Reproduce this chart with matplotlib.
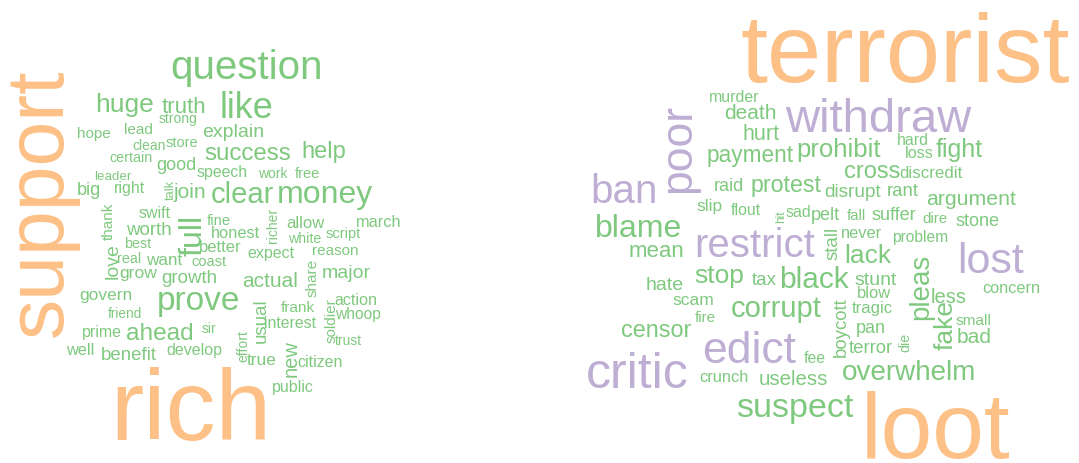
import matplotlib.pyplot as plt

plt.rcParams["font.family"] = ["Liberation Sans", "DejaVu Sans"]

# word-cloud palette (RColorBrewer "Accent")
GREEN, PURPLE, ORANGE = "#7FC97F", "#BEAED4", "#FDC086"

# ---- left cloud: words and their weights (drawn as font size, pt) ----
left_words = ["support", "rich", "question", "like", "huge", "truth", "strong", "lead",
              "hope", "clean", "store", "certain", "good", "leader", "big", "right",
              "talk", "join", "clear", "money", "explain", "success", "help", "speech",
              "work", "free", "thank", "love", "swift", "full", "fine", "honest", "worth",
              "best", "better", "real", "want", "coast", "grow", "growth", "govern",
              "prove", "friend", "prime", "ahead", "sir", "well", "benefit", "develop",
              "richer", "allow", "march", "white", "script", "expect", "reason", "share",
              "actual", "major", "usual", "frank", "soldier", "action", "whoop",
              "interest", "trust", "effort", "true", "new", "citizen", "public"]
left_freq = [58, 72, 29, 26, 19, 16, 10, 11,
             11, 10, 10.5, 10.3, 13, 9.6, 13, 11.5,
             9.3, 15, 21, 23, 14, 17.4, 17, 11.4,
             10, 10.5, 11, 14, 11.5, 23, 10.7, 11.8, 13.5,
             10.3, 12, 10.4, 12.3, 10.5, 12.6, 13.5, 12.5,
             24, 9.8, 11.5, 17.6, 10, 11.7, 13.4, 11.5,
             10, 12, 11.7, 10.2, 10.5, 11.5, 11, 11,
             15, 14, 13.5, 11, 11, 11.6, 11.2,
             11.4, 10, 10, 12.5, 14.5, 11.5, 11.5]
left_orange = ["support", "rich"]

# ---- right cloud ----
right_words = ["terrorist", "withdraw", "murder", "death", "hurt", "poor", "ban", "payment",
               "prohibit", "hard", "loss", "fight", "cross", "discredit", "disrupt", "rant",
               "argument", "protest", "raid", "slip", "flout", "hit", "sad", "pelt", "fall",
               "suffer", "dire", "stone", "never", "problem", "stall", "lack", "black",
               "restrict", "blame", "mean", "stop", "tax", "hate", "scam", "corrupt", "fire",
               "censor", "edict", "critic", "fee", "crunch", "useless", "overwhelm",
               "suspect", "loot", "boycott", "stunt", "blow", "tragic", "pan", "terror",
               "die", "pleas", "fake", "less", "concern", "small", "bad", "lost"]
right_freq = [70, 34, 11.4, 15, 15.5, 32, 29, 16.3,
              18.5, 11.5, 11.7, 18, 17, 12.2, 13.7, 13.4,
              15.3, 16.7, 13, 12.5, 11.4, 8.5, 11.5, 13, 10.7,
              13, 10.8, 13, 11.8, 11.2, 13.5, 19, 21.5,
              29, 23, 16, 19, 13.5, 14, 12.5, 21, 10.9,
              16.8, 32, 36, 11.4, 11.8, 14.7, 20.1,
              24.6, 67, 13.4, 14, 11.9, 12, 13, 13.4,
              10.3, 20, 19, 14.6, 11.7, 11.1, 15.1, 31]
right_orange = ["terrorist", "loot"]
right_purple = ["withdraw", "poor", "ban", "restrict", "lost", "edict", "critic"]

# ---- layout (pixel position of left/baseline anchor, rotation) ----
left_layout = [(62, 337, 90), (110, 440, 0), (170, 79, 0), (220, 118, 0), (95, 112, 0),
               (162, 113, 0), (159, 123, 0), (124, 134, 0), (77, 138, 0), (132, 150, 0),
               (166, 147, 0), (109, 162, 0), (156, 170, 0), (94, 180, 0), (77, 195, 0),
               (114, 193, 0), (174, 200, 90), (174, 198, 0), (211, 203, 0), (277, 203, 0),
               (202, 137, 0), (204, 160, 0), (301, 158, 0), (197, 177, 0), (258, 178, 0),
               (295, 178, 0), (113, 240, 90), (118, 279, 90), (139, 218, 0), (202, 256, 90),
               (207, 225, 0), (211, 238, 0), (126, 235, 0), (124, 248, 0), (199, 252, 0),
               (117, 263, 0), (146, 265, 0), (191, 266, 0), (119, 278, 0), (161, 283, 0),
               (79, 300, 0), (157, 310, 0), (108, 318, 0), (82, 337, 0), (126, 340, 0),
               (202, 333, 0), (66, 355, 0), (101, 360, 0), (166, 355, 0), (277, 243, 90),
               (286, 228, 0), (356, 227, 0), (288, 243, 0), (326, 238, 0), (247, 258, 0),
               (312, 255, 0), (317, 297, 90), (242, 287, 0), (322, 278, 0), (266, 343, 90),
               (281, 312, 0), (336, 343, 90), (334, 305, 0), (335, 319, 0), (264, 328, 0),
               (335, 345, 0), (247, 362, 90), (247, 365, 0), (297, 377, 90), (297, 367, 0),
               (272, 392, 0)]
right_layout = [(741, 82, 0), (785, 132, 0), (709, 102, 0), (724, 119, 0), (742, 140, 0),
                (690, 193, 90), (590, 203, 0), (707, 162, 0), (796, 157, 0), (897, 145, 0),
                (905, 158, 0), (936, 157, 0), (844, 178, 0), (899, 178, 0), (824, 197, 0),
                (887, 196, 0), (926, 205, 0), (751, 192, 0), (714, 191, 0), (696, 211, 0),
                (731, 215, 0), (784, 223, 90), (786, 217, 0), (811, 220, 0), (847, 220, 0),
                (871, 220, 0), (922, 223, 0), (955, 226, 0), (841, 238, 0), (892, 242, 0),
                (838, 260, 90), (844, 263, 0), (779, 288, 0), (694, 257, 0), (595, 237, 0),
                (629, 257, 0), (694, 283, 0), (752, 285, 0), (646, 290, 0), (672, 305, 0),
                (731, 317, 0), (695, 322, 0), (621, 337, 0), (702, 363, 0), (586, 388, 0),
                (804, 363, 0), (699, 382, 0), (759, 385, 0), (842, 380, 0), (736, 417, 0),
                (861, 458, 0), (846, 357, 90), (854, 285, 0), (857, 298, 0), (852, 313, 0),
                (856, 333, 0), (849, 353, 0), (909, 352, 90), (928, 320, 90), (953, 350, 90),
                (931, 303, 0), (982, 293, 0), (956, 325, 0), (957, 343, 0), (957, 273, 0)]


def word_color(word, orange, purple=()):
    if word in orange:
        return ORANGE
    if word in purple:
        return PURPLE
    return GREEN


fig = plt.figure(figsize=(10.79, 4.64), dpi=100)
ax = fig.add_axes([0, 0, 1, 1])
ax.set_xlim(0, 1079)
ax.set_ylim(464, 0)
ax.axis("off")

clouds = [(left_words, left_freq, left_layout, left_orange, ()),
          (right_words, right_freq, right_layout, right_orange, right_purple)]
for words, freq, layout, orange, purple in clouds:
    for w, f, (x, y, rot) in zip(words, freq, layout):
        ax.text(x, y, w, fontsize=f, rotation=rot, rotation_mode="anchor",
                ha="left", va="baseline", color=word_color(w, orange, purple))

fig.savefig("out.png", dpi=100, facecolor="white")
